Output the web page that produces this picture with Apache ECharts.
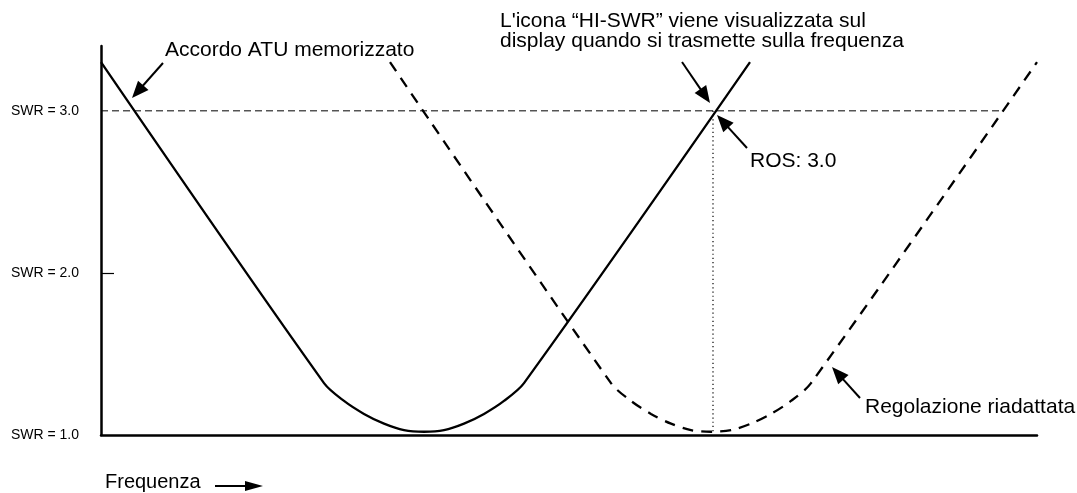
<!DOCTYPE html>
<html>
<head>
<meta charset="utf-8">
<script src="https://cdn.jsdelivr.net/npm/echarts@6/dist/echarts.min.js"></script>
<style>
html,body{margin:0;padding:0;background:#fff;}
#chart{width:1077px;height:493px;}
</style>
</head>
<body>
<div id="chart"></div>
<script>
// ---- data (frequency in arbitrary units, SWR values) ----
const solidFreq   = [0, 223, 243, 263, 283, 303, 323, 343, 363, 383, 403, 423, 649];
const solidSWR    = [3.30, 1.32, 1.21, 1.13, 1.07, 1.03, 1.02, 1.03, 1.07, 1.13, 1.21, 1.32, 3.30];
const retunedFreq = [289, 510, 530, 550, 570, 590, 610, 630, 650, 670, 690, 710, 936];
const retunedSWR  = [3.30, 1.32, 1.21, 1.13, 1.07, 1.03, 1.02, 1.03, 1.07, 1.13, 1.21, 1.32, 3.30];
const thresholdFreq = [0, 899];
const thresholdSWR  = [3.0, 3.0];
const rosFreq = [612, 612];
const rosSWR  = [3.0, 1.02];
const yTickValues = [1, 2, 3];
const yTickMarks = [2];
const yLabelPrefix = 'SWR = ';
const textAccordo = 'Accordo ATU memorizzato';
const textIcona1 = 'L\'icona \u201CHI-SWR\u201D viene visualizzata sul';
const textIcona2 = 'display quando si trasmette sulla frequenza';
const textROS = 'ROS: 3.0';
const textRegolazione = 'Regolazione riadattata';
const textFrequenza = 'Frequenza';

const zip = (a, b) => a.map((v, i) => [v, b[i]]);

const FONT = '"Liberation Sans", Arial, Helvetica, sans-serif';

function arrow(x1, y1, x2, y2, hl, hw) {
  const dx = x2 - x1, dy = y2 - y1, L = Math.hypot(dx, dy);
  const ux = dx / L, uy = dy / L;
  const bx = x2 - ux * hl, by = y2 - uy * hl;
  return [
    {type: 'line', shape: {x1: x1, y1: y1, x2: bx + ux * 2, y2: by + uy * 2},
     style: {stroke: '#000', lineWidth: 2}},
    {type: 'polygon', shape: {points: [[x2, y2], [bx - uy * hw, by + ux * hw], [bx + uy * hw, by - ux * hw]]},
     style: {fill: '#000'}}
  ];
}
function label(text, x, y, size) {
  return {type: 'text', x: x, y: y,
    style: {text: text, font: size + 'px ' + FONT, fill: '#000', align: 'left', verticalAlign: 'middle'}};
}

const chart = echarts.init(document.getElementById('chart'), null, {renderer: 'canvas'});
const option = {
  backgroundColor: '#fff',
  animation: false,
  grid: {left: 101, right: 40, top: 46, bottom: 58, containLabel: false},
  xAxis: {
    type: 'value', min: 0, max: 936,
    axisLine: {show: true, onZero: false, lineStyle: {color: '#000', width: 2.5}},
    axisTick: {show: false}, axisLabel: {show: false}, splitLine: {show: false}
  },
  yAxis: {
    type: 'value', min: 1, max: 3.4, interval: 1,
    axisLine: {show: true, onZero: false, lineStyle: {color: '#000', width: 2.5}},
    axisTick: {show: true, inside: true, length: 13, customValues: yTickMarks, lineStyle: {color: '#000', width: 1.2}},
    axisLabel: {show: true, customValues: yTickValues, margin: 22, color: '#000',
      fontFamily: FONT, fontSize: 14,
      formatter: v => yLabelPrefix + Number(v).toFixed(1)},
    splitLine: {show: false}
  },
  series: [
    {type: 'line', data: zip(thresholdFreq, thresholdSWR), symbol: 'none', silent: true,
     lineStyle: {color: '#000', width: 1, type: [7, 4]}},
    {type: 'line', data: zip(rosFreq, rosSWR), symbol: 'none', silent: true,
     lineStyle: {color: '#000', width: 1.2, type: [1.2, 3]}},
    {type: 'line', data: zip(solidFreq, solidSWR), symbol: 'none', smooth: 0.3,
     lineStyle: {color: '#000', width: 2.3}},
    {type: 'line', data: zip(retunedFreq, retunedSWR), symbol: 'none', smooth: 0.3,
     lineStyle: {color: '#000', width: 2.3, type: [11, 8]}}
  ],
  graphic: [].concat(
    [label(textAccordo, 165, 50, 21)],
    arrow(163, 63, 132, 98, 17, 7),
    [label(textIcona1, 500, 21.5, 21), label(textIcona2, 500, 41.5, 21)],
    arrow(682, 62, 710, 103, 17, 7),
    [label(textROS, 750, 161.5, 21)],
    arrow(747, 148, 717, 115, 17, 7),
    [label(textRegolazione, 865, 407.5, 21)],
    arrow(860, 398, 832, 367, 17, 7),
    [label(textFrequenza, 105, 482.5, 20)],
    arrow(215, 486, 263, 486, 18, 5)
  )
};
chart.setOption(option);
</script>
</body>
</html>
